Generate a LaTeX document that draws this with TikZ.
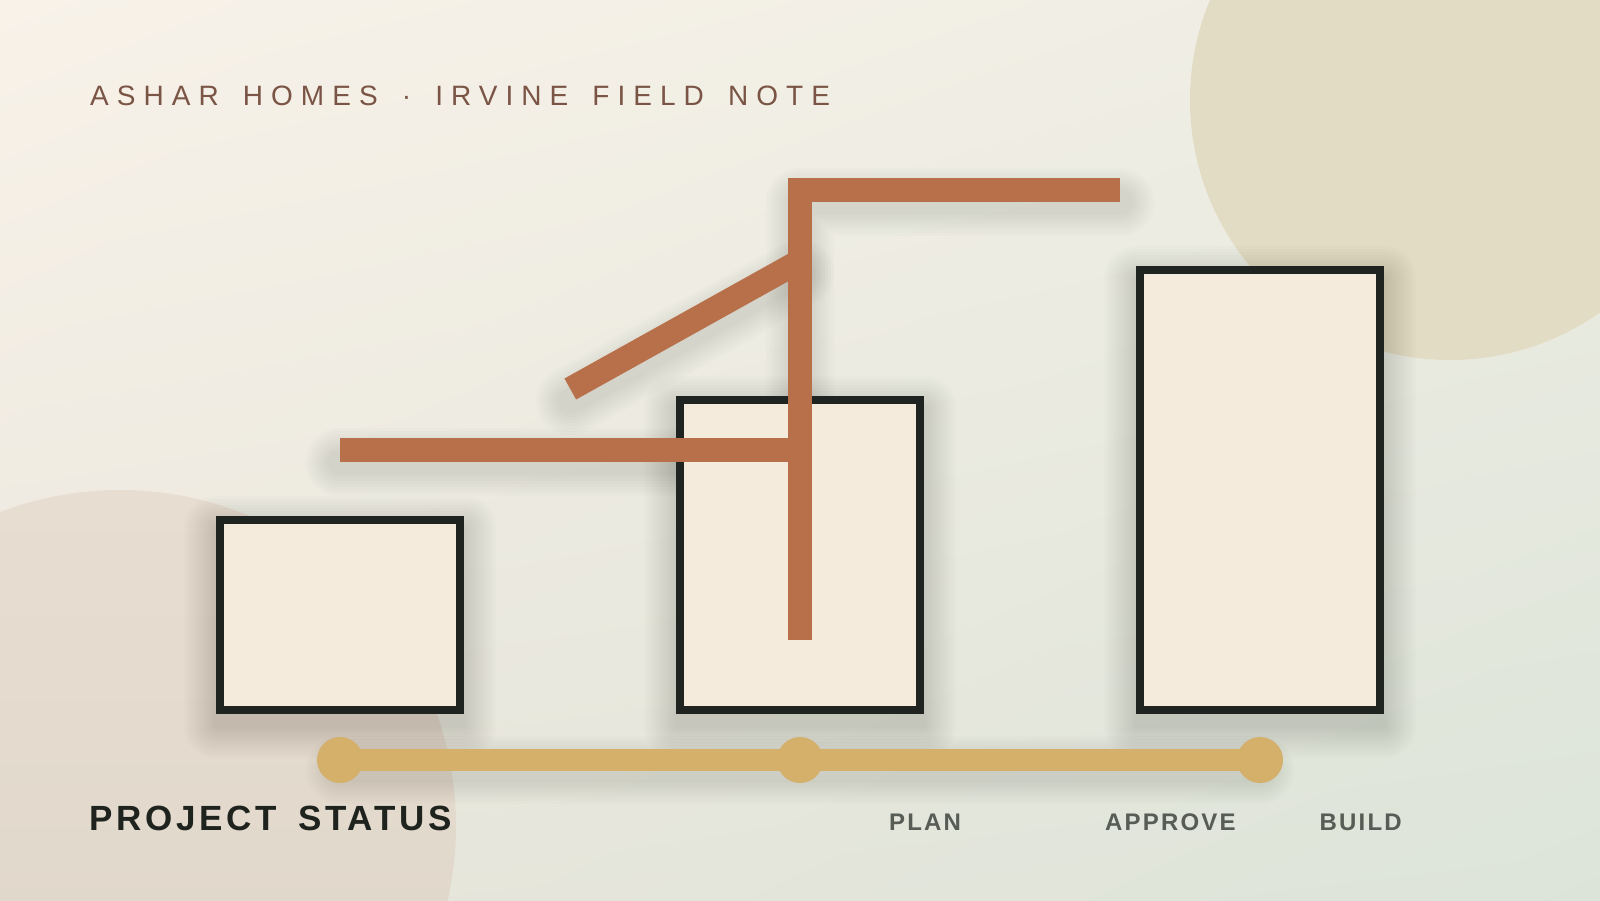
\documentclass[tikz,border=0pt]{standalone}
\usepackage{fontspec}
\setmainfont{Liberation Sans}
\newfontfamily\titlefont[LetterSpace=28.7]{Liberation Sans}
\newfontfamily\headfont[LetterSpace=10.5]{Liberation Sans}
\newfontfamily\labelfont[LetterSpace=9]{Liberation Sans}
\usetikzlibrary{shadings}
\definecolor{bgTL}{HTML}{F8F2E9}
\definecolor{bgTR}{HTML}{EEEDE3}
\definecolor{bgBL}{HTML}{EAE6DC}
\definecolor{bgBR}{HTML}{DCE4D9}
\definecolor{circTR}{HTML}{E3DCC4}
\definecolor{circBLa}{HTML}{E8DDD1}
\definecolor{circBLb}{HTML}{DDD5C9}
\definecolor{rectfill}{HTML}{F5EBDD}
\definecolor{rectline}{HTML}{1F2420}
\definecolor{rust}{HTML}{B8704A}
\definecolor{gold}{HTML}{D4B06B}
\definecolor{titlec}{HTML}{7A5444}
\definecolor{darktext}{HTML}{1F231E}
\definecolor{labelc}{HTML}{575C55}
\definecolor{shadowc}{HTML}{2A2E24}
\newcommand\tsp{\hspace*{8.3pt}}
\newcommand\hsp{\hspace*{8.5pt}}
\newcommand\myboxshadow[4]{%
  \foreach \e in {2,5,...,32} {
    \fill[shadowc, opacity=0.017, rounded corners={\e*1pt}]
      ({#1-\e},{#2+12-\e}) rectangle ({#3+\e},{#4+12+\e});
  }}
\newcommand\mybarshadow[1]{%
  \foreach \e in {1,4,...,22} {
    \draw[shadowc, opacity=0.017, line width={(24+2*\e)*1pt}, line cap=round, line join=round] #1;
  }}
\tikzset{
  box/.style={draw=rectline, fill=rectfill, line width=8.5pt, line join=miter},
  bar/.style={draw=rust, line width=24pt, line join=miter},
  tline/.style={draw=gold, line width=22pt},
  dot/.style={circle, fill=gold, minimum size=46pt, inner sep=0pt},
  txt/.style={anchor=base west, inner sep=0pt}
}
\begin{document}
\begin{tikzpicture}[x=1pt,y=-1pt]
\useasboundingbox (0,0) rectangle (1600,900);
% background
\shade[upper left=bgTL, upper right=bgTR, lower left=bgBL, lower right=bgBR] (0,0) rectangle (1600,900);
\fill[circTR] (1450,100) circle[radius=260];
\shade[top color=circBLa, bottom color=circBLb] (120,826) circle[radius=336];
% named points
\coordinate (dA) at (570.3,389);
\coordinate (dB) at (800,261);
\coordinate (hA) at (340,450);
\coordinate (hB) at (800,450);
\coordinate (vA) at (800,640);
\coordinate (vB) at (800,190);
\coordinate (vC) at (1120,190);
\coordinate (t1) at (340,760);
\coordinate (t2) at (800,760);
\coordinate (t3) at (1260,760);
% shadows
\myboxshadow{216}{516}{464}{714}
\myboxshadow{676}{396}{924}{714}
\myboxshadow{1136}{266}{1384}{714}
\mybarshadow{([yshift=-12pt]dA) -- ([yshift=-12pt]dB)}
\mybarshadow{([yshift=-12pt]hA) -- ([yshift=-12pt]hB)}
\mybarshadow{([yshift=-12pt]vA) -- ([yshift=-12pt]vB) -- ([yshift=-12pt]vC)}
\mybarshadow{([yshift=-10pt]t1) -- ([yshift=-10pt]t3)}
% boxes
\draw[box] (220,520) rectangle (460,710);
\draw[box] (680,400) rectangle (920,710);
\draw[box] (1140,270) rectangle (1380,710);
% rust bars
\draw[bar] (dA) -- (dB);
\draw[bar] (hA) -- (hB);
\draw[bar] (vA) -- (vB) -- (vC);
% timeline
\draw[tline] (t1) -- (t3);
\node[dot] (d1) at (t1) {};
\node[dot] (d2) at (t2) {};
\node[dot] (d3) at (t3) {};
% texts
\node[txt, text=titlec, font=\titlefont\fontsize{28}{34}\selectfont] (title) at (90,105.5) {ASHAR \tsp HOMES \tsp · \tsp IRVINE \tsp FIELD \tsp NOTE};
\node[txt, text=darktext, font=\headfont\bfseries\fontsize{35}{42}\selectfont] (status) at (89,830) {PROJECT \hsp STATUS};
\node[txt, text=labelc, font=\labelfont\bfseries\fontsize{24}{29}\selectfont] (plan) at (889,830.5) {PLAN};
\node[txt, text=labelc, font=\labelfont\bfseries\fontsize{24}{29}\selectfont] (approve) at (1105,830.5) {APPROVE};
\node[txt, text=labelc, font=\labelfont\bfseries\fontsize{24}{29}\selectfont] (build) at (1319.5,830.5) {BUILD};
\end{tikzpicture}
\end{document}
